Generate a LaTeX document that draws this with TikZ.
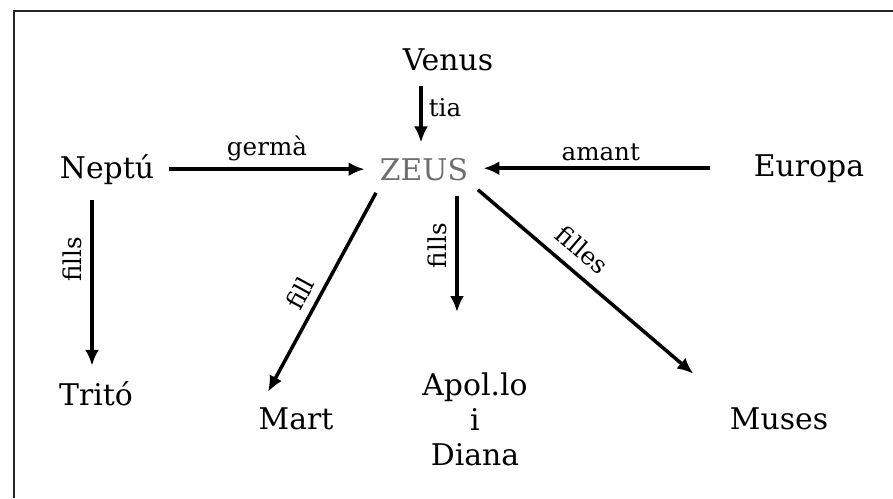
\documentclass[tikz,border=0pt]{standalone}
\usepackage{fontspec}
\setmainfont{DejaVu Serif}
\usetikzlibrary{arrows.meta}
\definecolor{zeusgray}{HTML}{6E6E6E}

\begin{document}
\begin{tikzpicture}[x=0.02cm, y=-0.02cm,
		god/.style={inner sep=3mm, font=\fontsize{17}{20}\selectfont, align=center},
		lbl/.style={inner sep=1.6mm, font=\fontsize{14}{16}\selectfont},
		arr/.style={-{Latex[length=3.2mm,width=2.8mm]}, line width=2pt}]
	\useasboundingbox (0,0) rectangle (893,498);
	
	% Frame (left and top edges only)
	\draw[line width=1.4pt, black!85] (14,498) -- (14,11) -- (893,11);
	
	% Gods
	\node[god, text=zeusgray, anchor=base] (zeus) at (424,180) {ZEUS};
	\foreach \x/\y/\nm/\txt in {448/70/venus/Venus, 107/178/neptu/Neptú, 809/176/europa/Europa,
		96/405/trito/Tritó, 296/429/mart/Mart, 779/429/muses/Muses} {
		\node[god, anchor=base] (\nm) at (\x,\y) {\txt};
	}
	\node[god, anchor=north] (apollo) at (475,357) {Apol.lo\\i\\Diana};
	
	% Arrow ends under ZEUS and Neptu
	\coordinate (zs) at ([xshift=6.6mm]zeus.south);
	\coordinate (zsw) at ([xshift=-9.6mm, yshift=0.6mm]zeus.south);
	\coordinate (zse) at ([xshift=10.8mm, yshift=1.2mm]zeus.south);
	\coordinate (ns) at ([xshift=-0.8mm]neptu.south -| trito.north);
	
	% Relations
	\draw[arr] ([xshift=-0.6mm]venus.south -| zeus.north) -- ([xshift=-0.6mm]zeus.north) node[lbl, pos=0.39, right, inner sep=1.2mm] {tia};
	\draw[arr] (neptu.east) -- (neptu.east -| zeus.west) node[lbl, midway, above, inner sep=1.2mm] {germà};
	\draw[arr, shorten <=5.8mm] (europa.west) -- (europa.west -| zeus.east) node[lbl, pos=0.54, above, inner sep=1.2mm] {amant};
	\draw[arr] (ns) -- (ns |- trito.north) node[lbl, pos=0.36, anchor=south, rotate=90] {fills};
	\draw[arr] (zsw) -- ([xshift=-5.6mm]mart.north) node[lbl, pos=0.55, sloped, above] {fill};
	\draw[arr, shorten >=9mm] (zs) -- (zs |- apollo.north) node[lbl, pos=0.31, anchor=south, rotate=90] {fills};
	\draw[arr, shorten >=5.6mm] (zse) -- (muses.north west) node[lbl, pos=0.38, sloped, above, inner sep=2.2mm] {filles};
	
\end{tikzpicture}
\end{document}
